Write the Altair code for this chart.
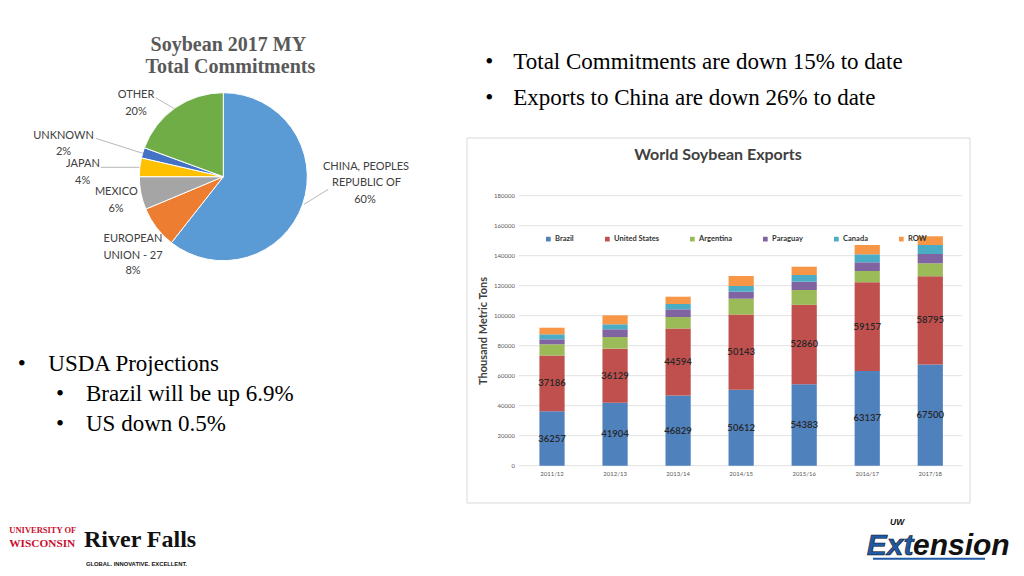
import altair as alt
import pandas as pd

# ---------------- data ----------------
pie_names = ["CHINA, PEOPLES REPUBLIC OF", "EUROPEAN UNION - 27", "MEXICO", "JAPAN", "UNKNOWN", "OTHER"]
pie_shares = [60.6, 8.1, 6.3, 3.6, 2.0, 19.4]
pie_colors = ["#5B9BD5", "#ED7D31", "#A5A5A5", "#FFC000", "#4472C4", "#70AD47"]

years = ["2011/12", "2012/13", "2013/14", "2014/15", "2015/16", "2016/17", "2017/18"]
brazil = [36257, 41904, 46829, 50612, 54383, 63137, 67500]
united_states = [37186, 36129, 44594, 50143, 52860, 59157, 58795]
argentina = [7490, 7770, 7710, 10580, 9890, 7510, 8640]
paraguay = [3330, 5130, 5130, 4670, 5530, 5800, 6200]
canada = [3330, 3330, 3530, 3800, 4470, 5330, 6000]
row = [4400, 6000, 4870, 6670, 5530, 6200, 5800]
series = ["Brazil", "United States", "Argentina", "Paraguay", "Canada", "ROW"]
series_colors = ["#4F81BD", "#C0504D", "#9BBB59", "#8064A2", "#4BACC6", "#F79646"]
y_ticks = [0, 20000, 40000, 60000, 80000, 100000, 120000, 140000, 160000, 180000]

# ---------------- tables ----------------
pie_df = pd.DataFrame({"name": pie_names, "share": pie_shares, "idx": list(range(len(pie_names)))})

bar_rows = []
for si, (s, vals) in enumerate(zip(series, [brazil, united_states, argentina, paraguay, canada, row])):
    for y, v in zip(years, vals):
        bar_rows.append({"year": y, "series": s, "sidx": si, "value": v})
bar_df = pd.DataFrame(bar_rows)

lab_rows = []
for y, b, u in zip(years, brazil, united_states):
    lab_rows.append({"year": y, "mid": b / 2, "val": b})
    lab_rows.append({"year": y, "mid": b + u / 2, "val": u})
lab_df = pd.DataFrame(lab_rows)
tick_df = pd.DataFrame({"v": y_ticks})
year_df = pd.DataFrame({"year": years})

# ---------------- layout helpers ----------------
OFF = 8


def P(v):
    return v - OFF


ONE = alt.Data(values=[{}])


def txt(s, x, y, size, font="Liberation Serif", color="#000000", weight="normal",
        align="left", baseline="alphabetic", angle=0, italic=False, stroke=None, sw=0):
    kw = dict(text=s, font=font, fontSize=size, color=color, fontWeight=weight,
              align=align, baseline=baseline, angle=angle)
    if italic:
        kw["fontStyle"] = "italic"
    if stroke:
        kw["stroke"] = stroke
        kw["strokeWidth"] = sw
    return alt.Chart(ONE).mark_text(**kw).encode(x=alt.value(P(x)), y=alt.value(P(y)))


def seg(x1, y1, x2, y2, color="#A6A6A6", w=0.8):
    return alt.Chart(ONE).mark_rule(color=color, strokeWidth=w).encode(
        x=alt.value(P(x1)), y=alt.value(P(y1)), x2=alt.value(P(x2)), y2=alt.value(P(y2)))


layers = []

# ---------------- pie ----------------
pie = alt.Chart(pie_df).mark_arc(outerRadius=84, stroke="white", strokeWidth=1).encode(
    theta=alt.Theta("share:Q", stack=True),
    color=alt.Color("name:N", scale=alt.Scale(domain=pie_names, range=pie_colors), legend=None),
    order=alt.Order("idx:Q", sort="ascending"),
    x=alt.value(P(223.3)), y=alt.value(P(176.7)),
)
layers.append(pie)

layers += [
    txt("Soybean 2017 MY", 228.3, 50.7, 20, weight="bold", color="#595959", align="center"),
    txt("Total Commitments", 230.3, 72.7, 20, weight="bold", color="#595959", align="center"),
]

PL = dict(font="Lato", color="#404040", align="center", baseline="middle")
pie_text = [
    ("OTHER", 136, 95), ("20%", 136, 111.7),
    ("UNKNOWN", 63.5, 136), ("2%", 63.5, 152.3),
    ("JAPAN", 83, 164), ("4%", 82.7, 180.7),
    ("MEXICO", 116.3, 192.3), ("6%", 116, 209),
    ("EUROPEAN", 133, 239.3), ("UNION - 27", 133, 256), ("8%", 133, 270.7),
    ("CHINA, PEOPLES", 366, 166.7), ("REPUBLIC OF", 366.5, 183.3), ("60%", 365, 200),
]
for s, x, y in pie_text:
    layers.append(txt(s, x, y, 11, **PL))

layers += [
    seg(155.7, 97.7, 174.3, 108.7),
    seg(95.7, 138.3, 142.7, 153.3),
    seg(100.7, 167.3, 139.3, 167.3),
    seg(304, 204.3, 328.3, 189.3),
]

# ---------------- bullet text ----------------
FS = 23
layers += [
    txt("\u2022", 489.3, 69.3, FS, align="center"),
    txt("Total Commitments are down 15% to date", 513.3, 69.3, FS),
    txt("\u2022", 489.3, 105, FS, align="center"),
    txt("Exports to China are down 26% to date", 513.3, 105, FS),
    txt("\u2022", 21.7, 370.7, FS, align="center"),
    txt("USDA Projections", 48.3, 370.7, FS),
    txt("\u2022", 60, 401, FS, align="center"),
    txt("Brazil will be up 6.9%", 86, 401, FS),
    txt("\u2022", 60, 430.7, FS, align="center"),
    txt("US down 0.5%", 86, 430.7, FS),
]

# ---------------- bar chart ----------------
box = alt.Chart(ONE).mark_rect(fill="white", stroke="#D9D9D9", strokeWidth=1).encode(
    x=alt.value(P(467)), x2=alt.value(P(970)), y=alt.value(P(138)), y2=alt.value(P(503)))
layers.append(box)

X_SCALE = alt.Scale(domain=years, range=[P(520.5), P(961.8)], paddingInner=0.6, paddingOuter=0.3)
Y_SCALE = alt.Scale(domain=[0, 180000], range=[P(465.7), P(195.7)], nice=False, zero=True)

grid = alt.Chart(tick_df).mark_rule(color="#D9D9D9", strokeWidth=0.8).encode(
    y=alt.Y("v:Q", scale=Y_SCALE, axis=None),
    x=alt.value(P(519)), x2=alt.value(P(962)))
ylab = alt.Chart(tick_df).mark_text(align="right", baseline="middle", font="Lato", fontSize=6,
                                    color="#595959").encode(
    y=alt.Y("v:Q", scale=Y_SCALE, axis=None), x=alt.value(P(515)),
    text=alt.Text("v:Q", format="d"))
xlab = alt.Chart(year_df).mark_text(baseline="middle", font="Lato", fontSize=6, color="#595959").encode(
    x=alt.X("year:N", scale=X_SCALE, axis=None), y=alt.value(P(474)), text="year:N")

bars = alt.Chart(bar_df).mark_bar().encode(
    x=alt.X("year:N", scale=X_SCALE, axis=None),
    y=alt.Y("value:Q", scale=Y_SCALE, axis=None, stack="zero"),
    color=alt.Color("series:N", scale=alt.Scale(domain=series, range=series_colors),
                    legend=alt.Legend(title=None, orient="none", direction="horizontal",
                                      legendX=P(544.6), legendY=P(235), symbolType="square",
                                      symbolSize=22, symbolStrokeWidth=0, labelFont="Lato",
                                      labelFontSize=7.5, labelFontWeight="bold", labelColor="#333333",
                                      columnPadding=29, labelOffset=3, padding=0, offset=0)),
    order=alt.Order("sidx:Q", sort="ascending"),
)
labels = alt.Chart(lab_df).mark_text(font="Lato", fontSize=9.5, color="#262626", baseline="middle",
                                     fontWeight=600).encode(
    x=alt.X("year:N", scale=X_SCALE, axis=None),
    y=alt.Y("mid:Q", scale=Y_SCALE, axis=None),
    text=alt.Text("val:Q", format="d"))

layers += [grid, ylab, xlab, bars, labels]
layers += [
    txt("World Soybean Exports", 718, 160.3, 16, font="Lato", weight="bold", color="#404040", align="center"),
    txt("Thousand Metric Tons", 484, 331, 11, font="Lato", weight="bold", color="#404040",
        align="center", baseline="middle", angle=270),
]

# ---------------- logos ----------------
layers += [
    txt("UNIVERSITY OF", 9.3, 532.7, 8.5, weight="bold", color="#C8102E"),
    txt("WISCONSIN", 9.3, 547.3, 11.3, weight="bold", color="#C8102E"),
    txt("River Falls", 84, 546.7, 24, weight="bold", color="#111111"),
    txt("GLOBAL. INNOVATIVE. EXCELLENT.", 86, 566, 5.8, font="Liberation Sans",
        weight="bold", color="#111111"),
    txt("UW", 890, 524.5, 8.5, font="Liberation Sans", weight="bold", italic=True, color="#111111"),
    txt("Ext", 866.7, 555, 30, font="Liberation Sans", weight="bold", italic=True, color="#1F5AA6",
        stroke="#111111", sw=0.6),
    txt("ension", 913, 555, 30, font="Liberation Sans", weight="bold", italic=True, color="#111111"),
    seg(873, 558.7, 985, 558.7, color="#1F5AA6", w=2),
]

chart = alt.layer(*layers).resolve_scale(
    x="independent", y="independent", color="independent"
).properties(
    width=1008, height=560, padding=0, autosize=alt.AutoSizeParams(type="none"),
    background="white",
).configure_view(stroke=None)

chart.save("out.html", embed_options={"renderer": "svg", "actions": False})
